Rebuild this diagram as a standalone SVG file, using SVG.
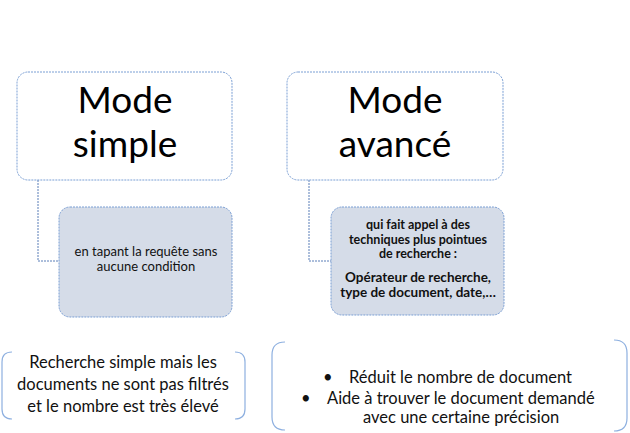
<svg xmlns="http://www.w3.org/2000/svg" width="630" height="433" viewBox="0 0 630 433">
<style>
.top{fill:#ffffff;stroke:#7b9fd4;stroke-width:1;stroke-dasharray:2 1}
.sub{fill:#d5dce8;stroke:#7b9fd4;stroke-width:1;stroke-dasharray:2 1}
.conn{fill:none;stroke:#5a7fb8;stroke-width:1;stroke-dasharray:2 1}
.br{fill:none;stroke:#8eb0e0;stroke-width:1.2}
.big{font-family:Lato,"Liberation Sans",sans-serif;font-size:37px;fill:#000;text-anchor:middle}
.t{font-family:Lato,"Liberation Sans",sans-serif;fill:#111}
.mid{text-anchor:middle}
</style>
<rect width="630" height="433" fill="#ffffff"/>
<g id="connectors">
<path class="conn" d="M38 180 V261 H60"/>
<path class="conn" d="M309 180 V261 H331"/>
</g>
<g id="mode-simple">
<rect class="top" x="17" y="72" width="215" height="108" rx="11"/>
<text class="big" x="125" y="113">Mode</text>
<text class="big" x="125" y="157">simple</text>
</g>
<g id="mode-avance">
<rect class="top" x="287" y="72" width="216" height="108" rx="11"/>
<text class="big" x="395" y="113">Mode</text>
<text class="big" x="395" y="157">avancé</text>
</g>
<g id="simple-detail">
<rect class="sub" x="59" y="207" width="173" height="110" rx="11"/>
<text class="t mid" font-size="13" x="146" y="256">en tapant la requête sans</text>
<text class="t mid" font-size="13" x="146" y="271">aucune condition</text>
</g>
<g id="avance-detail">
<rect class="sub" x="331" y="207" width="173" height="108" rx="11"/>
<g class="t mid" font-size="12.5" font-weight="bold">
<text x="418" y="229">qui fait appel à des</text>
<text x="418" y="244">techniques plus pointues</text>
<text x="418" y="258">de recherche :</text>
</g>
<g class="t mid" font-size="13.5" font-weight="bold">
<text x="418" y="282">Opérateur de recherche,</text>
<text x="418" y="297">type de document, date,…</text>
</g>
</g>
<g id="simple-result">
<path class="br" d="M12 352 Q2 352 2 362 V409 Q2 419 12 419"/>
<path class="br" d="M235 352 Q245 352 245 362 V409 Q245 419 235 419"/>
<g class="t mid" font-size="16.5">
<text x="123" y="368">Recherche simple mais les</text>
<text x="123" y="390">documents ne sont pas filtrés</text>
<text x="123" y="412">et le nombre  est très élevé</text>
</g>
</g>
<g id="avance-result">
<path class="br" d="M285 342 Q272 342 272 355 V417 Q272 430 285 430"/>
<path class="br" d="M614 340 Q627 340 627 353 V418 Q627 431 614 431"/>
<g class="t" font-size="16.5">
<text x="323" y="383">•</text>
<text x="349" y="383">Réduit le nombre de document</text>
<text x="301" y="404">•</text>
<text x="327" y="404">Aide à trouver le document demandé</text>
<text x="363" y="423">avec une certaine précision</text>
</g>
</g>
</svg>
